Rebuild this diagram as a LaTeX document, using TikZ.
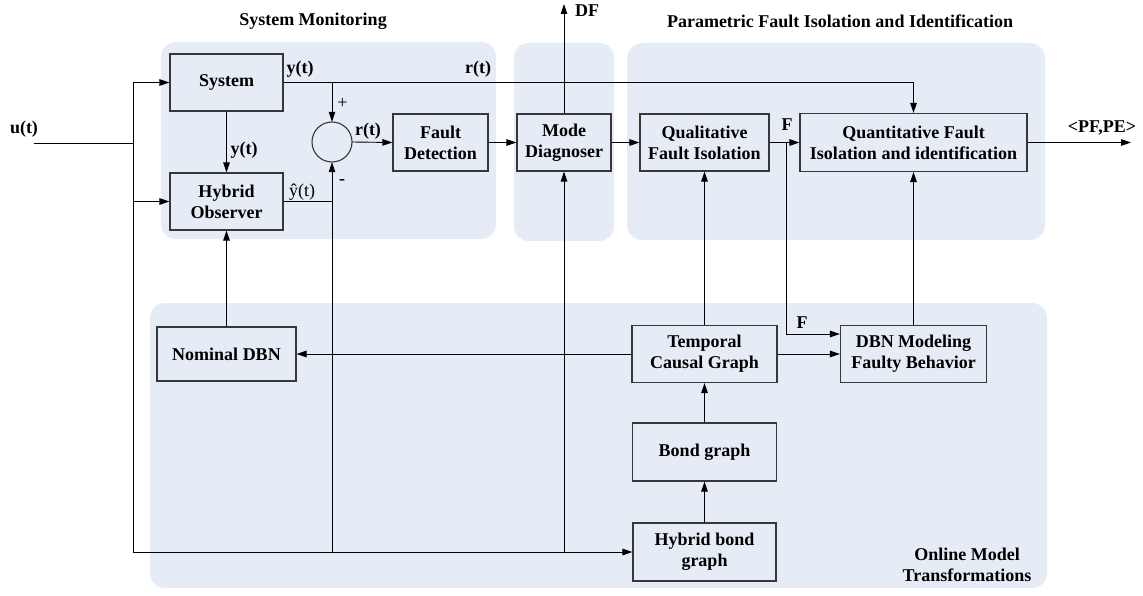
\documentclass[tikz,border=0pt]{standalone}
\usepackage{fontspec}
\setmainfont{Liberation Serif}
\usetikzlibrary{arrows.meta}
\definecolor{panelblue}{RGB}{229,236,246}
\definecolor{boxline}{RGB}{55,55,55}
\begin{document}
\begin{tikzpicture}[x=1pt,y=-1pt,
  panel/.style={fill=panelblue, draw=none, rounded corners=15pt},
  block/.style={draw=boxline, line width=1.1pt, align=center, inner sep=0pt,
    font=\bfseries\fontsize{18}{21}\selectfont},
  lbl/.style={font=\bfseries\fontsize{18}{21}\selectfont, inner sep=0pt, align=center},
  plain/.style={font=\fontsize{18}{21}\selectfont, inner sep=0pt},
  wire/.style={line width=0.9pt},
  conn/.style={wire, -{Triangle[length=10pt,width=6.5pt]}}]

\useasboundingbox (0,0) rectangle (1143,596);

% background panels
\fill[panel] (161,42) rectangle (496,239);
\fill[panel] (514,43) rectangle (614,241);
\fill[panel] (627,43) rectangle (1045,240);
\fill[panel] (150,303) rectangle (1047,588);

% panel titles
\node[lbl] (tmon) at (313,21) {System Monitoring};
\node[lbl] (tpar) at (840,21) {Parametric Fault Isolation and Identification};
\node[lbl] (tonl) at (967,565) {Online Model\\Transformations};

% blocks
\node[block, minimum width=113pt, minimum height=57pt] (sys) at (226.5,82.5) {System};
\node[block, minimum width=113pt, minimum height=57pt] (obs) at (226.5,201.5) {Hybrid\\Observer};
\draw[boxline, line width=1.1pt] (332,142) circle (20pt);
\node[circle, minimum size=40pt, inner sep=0pt] (sum) at (332,142) {};
\node[block, minimum width=95pt, minimum height=57pt] (fd) at (440.5,142.5) {Fault\\Detection};
\node[block, minimum width=94pt, minimum height=57pt] (mode) at (564,142.5) {Mode\\Diagnoser};
\node[block, minimum width=129pt, minimum height=57pt] (qual) at (704.5,142.5) {Qualitative\\Fault Isolation};
\node[block, minimum width=227pt, minimum height=58pt] (quant) at (913.5,142.5) {Quantitative Fault\\Isolation and identification};
\node[block, minimum width=139pt, minimum height=54pt] (ndbn) at (226.5,354) {Nominal DBN};
\node[block, minimum width=145pt, minimum height=57pt] (tcg) at (704.5,354) {Temporal\\Causal Graph};
\node[block, minimum width=146pt, minimum height=57pt] (dbn) at (913.5,354) {DBN Modeling\\Faulty Behavior};
\node[block, minimum width=144pt, minimum height=58pt] (bond) at (704.5,452) {Bond graph};
\node[block, minimum width=143pt, minimum height=58pt] (hbond) at (704.5,552) {Hybrid bond\\graph};

% junction and end points
\coordinate (uin) at (34,143);
\coordinate (bt) at (133,82.5);
\coordinate (bu) at (133,143);
\coordinate (bb) at (133,552);
\coordinate (df) at (564,4);
\coordinate (fj) at (786,142.5);
\coordinate (fk) at (786,334);
\coordinate (pfpe) at (1131,142.5);

% input bus
\draw[wire] (uin) -- (bu);
\draw[wire] (bt) -- (bb);
\draw[conn] (bt) -- (sys.west);
\draw[conn] (obs.west -| bt) -- (obs.west);
\draw[conn] (bb) -- (hbond.west);
\draw[conn] (sum.south |- bb) -- (sum.south);
\draw[conn] (mode.south |- bb) -- (mode.south);

% monitoring loop
\draw[conn] (sys.south) -- (obs.north);
\draw[conn] (sys.east) -- (sys.east -| quant.north) -- (quant.north);
\draw[conn] (sys.east -| sum.north) -- (sum.north);
\draw[wire] (obs.east) -- (obs.east -| sum.south);
\draw[conn] (sum.east) -- (fd.west);
\draw[conn] (fd.east) -- (mode.west);
\draw[conn] (mode.north) -- (df);
\draw[conn] (mode.east) -- (qual.west);
\draw[conn] (qual.east) -- (quant.west);
\draw[conn] (quant.east) -- (pfpe);
\draw[wire] (fj) -- (fk);
\draw[conn] (fk) -- (fk -| dbn.west);

% model transformations
\draw[conn] (hbond.north) -- (bond.south);
\draw[conn] (bond.north) -- (tcg.south);
\draw[conn] (tcg.north) -- (qual.south);
\draw[conn] (tcg.west) -- (ndbn.east);
\draw[conn] (tcg.east) -- (dbn.west);
\draw[conn] (dbn.north) -- (quant.south);
\draw[conn] (ndbn.north) -- (obs.south);

% signal labels
\node[lbl] (lu) at (24,129) {u(t)};
\node[lbl] (ly1) at (300,69) {y(t)};
\node[lbl] (lr1) at (478,69) {r(t)};
\node[lbl] (ly2) at (244,150) {y(t)};
\node[plain] (lyh) at (302,192) {ŷ(t)};
\node[plain] (lplus) at (342.5,103) {+};
\node[lbl] (lminus) at (342,182) {-};
\node[lbl] (lr2) at (368,131) {r(t)};
\node[lbl] (ldf) at (587,11) {DF};
\node[lbl] (lf1) at (787,125) {F};
\node[lbl] (lf2) at (802,323) {F};
\node[lbl] (lpf) at (1102,128) {<PF,PE>};
\end{tikzpicture}
\end{document}
